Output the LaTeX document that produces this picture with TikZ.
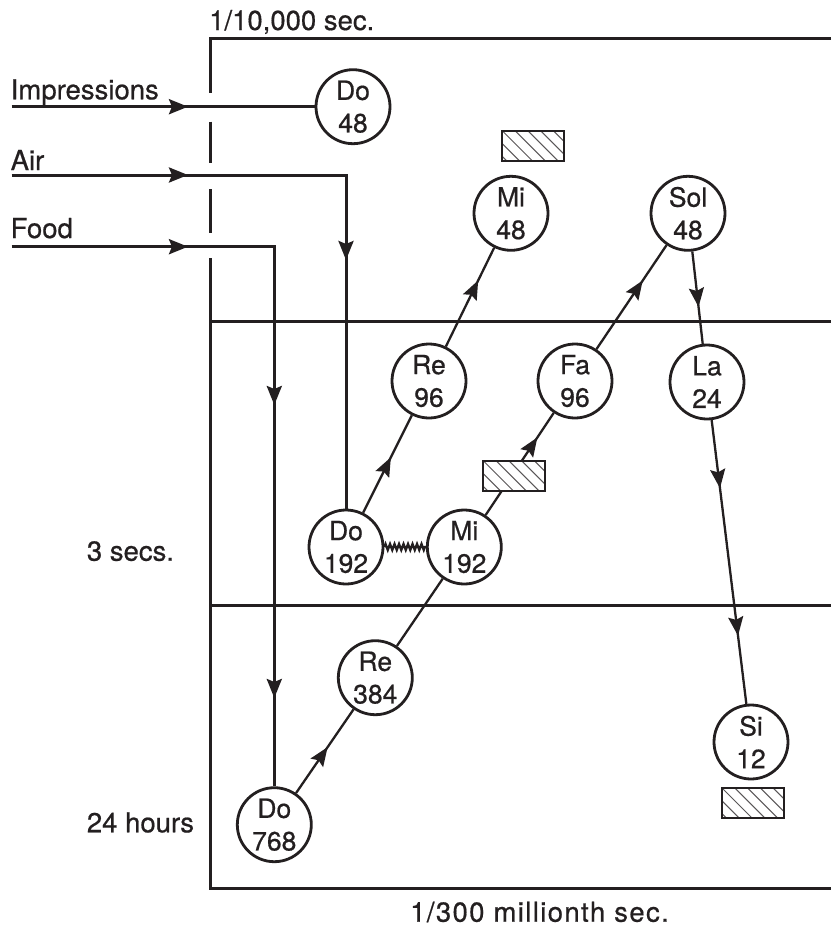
\documentclass[tikz,border=0pt]{standalone}
\usepackage{fontspec}
\setmainfont{TeX Gyre Heros}[FakeBold=0.6]
\usetikzlibrary{arrows.meta,decorations.markings,decorations.pathmorphing}
\definecolor{ink}{HTML}{231F20}
\begin{document}
\begin{tikzpicture}[x=1pt,y=-1pt,color=ink,
  note/.style={anchor=base west, inner sep=0pt, font=\fontsize{27.5}{30}\selectfont},
  tone/.style={circle, draw=ink, line width=2.8pt, fill=white, minimum size=74pt, inner sep=0pt, align=center, font=\fontsize{26.5}{32.6}\selectfont},
  frame/.style={draw=ink, line width=3pt},
  flow/.style={draw=ink, line width=3pt},
  link/.style={draw=ink, line width=2.3pt},
  arrowat/.style={postaction={decorate, decoration={markings, mark=at position #1 with {\arrow{Stealth[length=19pt,width=15pt,inset=3pt]}}}}},
  hatch/.style={draw=ink, line width=2pt, fill=white, minimum width=62pt, minimum height=30pt, inner sep=0pt,
    path picture={\foreach \k in {-2,...,4} \draw[line width=1pt, ink!75] ([xshift=\k*12.8pt]path picture bounding box.north west) -- ++(36pt,-36pt);}}
]
\path[use as bounding box] (0,0) rectangle (831,926);

% frame
\draw[frame] (831,38.3) -- (210,38.3) -- (210,93.3);
\draw[frame] (210,121.7) -- (210,162.7);
\draw[frame] (210,189.3) -- (210,232.7);
\draw[frame] (210,258.3) -- (210,888) -- (831,888);
\draw[frame] (210,321.7) -- (831,321.7);
\draw[frame] (210,605) -- (831,605);

% notes
\node[tone] (do48) at (353,106.7) {Do\\48};
\node[tone] (mi48) at (511,213.3) {Mi\\48};
\node[tone] (sol48) at (688,213.3) {Sol\\48};
\node[tone] (re96) at (429,381) {Re\\96};
\node[tone] (fa96) at (575,381) {Fa\\96};
\node[tone] (la24) at (707,382) {La\\24};
\node[tone] (do192) at (346,547) {Do\\192};
\node[tone] (mi192) at (464.3,547) {Mi\\192};
\node[tone] (re384) at (375.3,677.7) {Re\\384};
\node[tone] (do768) at (274.3,824.7) {Do\\768};
\node[tone] (si12) at (751,742) {Si\\12};

\coordinate (imp) at (11.7,106.7);
\coordinate (air) at (11.7,175);
\coordinate (food) at (11.7,246.7);

% inputs
\draw[flow, arrowat=176.3pt] (imp) -- (do48);
\draw[flow, arrowat=176.3pt, arrowat=419.3pt] (air) -| (do192);
\draw[flow, arrowat=176.3pt, arrowat=420.9pt, arrowat=713.9pt] (food) -| (do768);

% links
\draw[link, arrowat=0.57] (do192) -- (re96);
\draw[link, arrowat=0.67] (re96) -- (mi48);
\draw[link, arrowat=0.76] (mi192) -- (fa96);
\draw[link, arrowat=0.66] (fa96) -- (sol48);
\draw[link, arrowat=0.6] (sol48) -- (la24);
\draw[link, arrowat=0.24, arrowat=0.76] (la24) -- (si12);
\draw[link] (re384) -- (mi192);
\draw[link, arrowat=0.55] (do768) -- (re384);
\draw[link, decorate, decoration={zigzag, amplitude=3pt, segment length=4.5pt}] (do192) -- (mi192);

% hatched boxes
\node[hatch] (h1) at (533,145.5) {};
\node[hatch] (h2) at (514,475.5) {};
\node[hatch] (h3) at (752.5,802.5) {};

% labels
\node[note] (t1) at (209,30) {1/10,000 sec.};
\node[note] (t2) at (10.5,99.3) {Impressions};
\node[note] (t3) at (10.5,170) {Air};
\node[note] (t4) at (10.5,238) {Food};
\node[note] (t5) at (86.7,560.7) {3 secs.};
\node[note] (t6) at (86.7,832.3) {24 hours};
\node[note, font=\fontsize{27.5}{30}\selectfont\addfontfeature{LetterSpace=5}] (t7) at (410,921.7) {1/300 millionth sec.};
\end{tikzpicture}
\end{document}
